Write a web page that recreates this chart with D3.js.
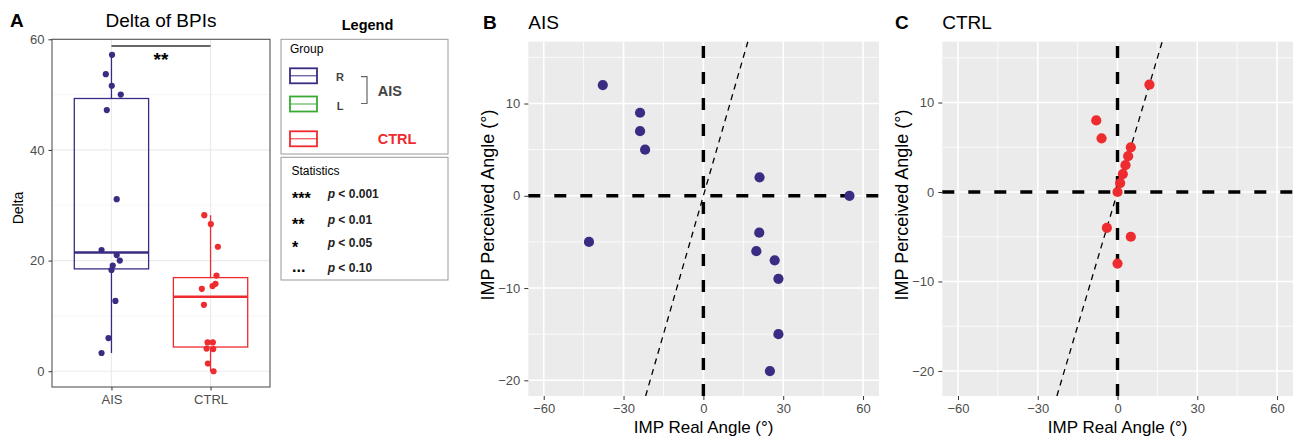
<!DOCTYPE html>
<html>
<head>
<meta charset="utf-8">
<script src="https://cdn.jsdelivr.net/npm/d3@7"></script>
<style>
  body { margin: 0; background: #fff; }
  svg text { font-family: 'Liberation Sans', Arial, Helvetica, sans-serif; }
</style>
</head>
<body>
<svg id="chart" width="1298" height="439"></svg>
<script>
'use strict';

// ---- data ----
var groups = ['AIS', 'CTRL'];
var aisDelta   = [57.2, 53.7, 51.6, 50.0, 47.2, 31.1, 21.9, 21.0, 20.0, 19.1, 18.3, 12.7, 6.0, 3.3];
var aisJitter  = [0.006, -0.057, 0.003, 0.094, -0.047, 0.053, -0.10, 0.053, 0.084, 0.013, 0, 0.04, -0.03, -0.10];
var ctrlDelta  = [28.2, 26.6, 22.5, 17.3, 15.8, 15.4, 14.9, 12.0, 5.2, 5.2, 4.1, 4.0, 1.4, 0.0];
var ctrlJitter = [-0.063, 0.003, 0.074, 0.06, 0.05, 0.02, -0.088, -0.067, -0.03, 0.023, -0.04, 0.027, -0.027, 0.03];
var deltaTicks = [0, 20, 40, 60];
var deltaMinor = [10, 30, 50];
var signifLabel = '**';
var signifY = 58.8;

var aisReal       = [-37.8, -23.8, -23.8, -21.9, 21.1, 54.9, -43, 21, 19.9, 26.8, 28.2, 28.2, 25];
var aisPerceived  = [12, 9, 7, 5, 2, 0, -5, -4, -6, -7, -9, -15, -19];
var ctrlReal      = [12, -8, -6, 5, 4, 3, 2, 1, 0, -4, 5, 0];
var ctrlPerceived = [12, 8, 6, 5, 4, 3, 2, 1, 0, -4, -5, -8];
var angleTicksX = [-60, -30, 0, 30, 60];
var angleMinorX = [-45, -15, 15, 45];
var angleTicksY = [-20, -10, 0, 10];
var angleMinorY = [-15, -5, 5, 15];

var legendSides = ['R', 'L'];
var statStars = ['***', '**', '*', '...'];
var statP = ['0.001', '0.01', '0.05', '0.10'];

var colR = '#392C83', colL = '#3AA935', colCtrl = '#EE2B2E';
var tickCol = '#4D4D4D';

var svg = d3.select('#chart');

function styleAxis(g, size) {
  g.select('.domain').remove();
  g.selectAll('.tick line').attr('stroke', '#333').attr('stroke-width', 1);
  g.selectAll('.tick text')
    .attr('fill', tickCol)
    .attr('font-size', size)
    .attr('font-family', "'Liberation Sans', Arial, sans-serif");
}

// ================= Panel A: boxplot =================
(function() {
  var left = 52, right = 270, top = 39.3, bottom = 387;
  var x = d3.scalePoint().domain(groups).range([left, right]).padding(0.6);
  var y = d3.scaleLinear().domain([-2.85, 60]).range([bottom, top]);
  var step = x.step();

  var g = svg.append('g');

  // grid
  g.selectAll('.minor').data(deltaMinor).enter().append('line')
    .attr('x1', left).attr('x2', right)
    .attr('y1', function(d) { return y(d) }).attr('y2', function(d) { return y(d) })
    .attr('stroke', '#F2F2F2').attr('stroke-width', 0.7);
  g.selectAll('.major').data(deltaTicks).enter().append('line')
    .attr('x1', left).attr('x2', right)
    .attr('y1', function(d) { return y(d) }).attr('y2', function(d) { return y(d) })
    .attr('stroke', '#EBEBEB').attr('stroke-width', 1.2);
  g.selectAll('.vmajor').data(groups).enter().append('line')
    .attr('x1', function(d) { return x(d) }).attr('x2', function(d) { return x(d) })
    .attr('y1', top).attr('y2', bottom)
    .attr('stroke', '#EBEBEB').attr('stroke-width', 1.2);

  var sets = [
    {name: 'AIS', vals: aisDelta, jit: aisJitter, col: colR},
    {name: 'CTRL', vals: ctrlDelta, jit: ctrlJitter, col: colCtrl}
  ];

  sets.forEach(function(s) {
    var sorted = s.vals.slice().sort(d3.ascending);
    var q1 = d3.quantile(sorted, 0.25), med = d3.quantile(sorted, 0.5), q3 = d3.quantile(sorted, 0.75);
    var iqr = q3 - q1;
    var lo = d3.min(sorted.filter(function(v) { return v >= q1 - 1.5 * iqr }));
    var hi = d3.max(sorted.filter(function(v) { return v <= q3 + 1.5 * iqr }));
    var cx = x(s.name), hw = step * 0.75 / 2;

    g.append('line').attr('x1', cx).attr('x2', cx).attr('y1', y(q3)).attr('y2', y(hi))
      .attr('stroke', s.col).attr('stroke-width', 1.3);
    g.append('line').attr('x1', cx).attr('x2', cx).attr('y1', y(q1)).attr('y2', y(lo))
      .attr('stroke', s.col).attr('stroke-width', 1.3);
    g.append('rect').attr('x', cx - hw).attr('width', hw * 2)
      .attr('y', y(q3)).attr('height', y(q1) - y(q3))
      .attr('fill', 'none').attr('stroke', s.col).attr('stroke-width', 1.3);
    g.append('line').attr('x1', cx - hw).attr('x2', cx + hw).attr('y1', y(med)).attr('y2', y(med))
      .attr('stroke', s.col).attr('stroke-width', 2.6);

    g.selectAll(null).data(s.vals).enter().append('circle')
      .attr('cx', function(d, i) { return cx + s.jit[i] * step })
      .attr('cy', function(d) { return y(d) })
      .attr('r', 3.1)
      .attr('fill', s.col);
  });

  // significance bar
  g.append('line').attr('x1', x('AIS')).attr('x2', x('CTRL'))
    .attr('y1', y(signifY)).attr('y2', y(signifY))
    .attr('stroke', '#333').attr('stroke-width', 1.6);
  g.append('text').attr('x', (x('AIS') + x('CTRL')) / 2).attr('y', 65.5)
    .attr('text-anchor', 'middle').attr('font-weight', 'bold').attr('font-size', 19)
    .text(signifLabel);

  // border
  g.append('rect').attr('x', left).attr('y', top).attr('width', right - left).attr('height', bottom - top)
    .attr('fill', 'none').attr('stroke', '#555').attr('stroke-width', 1.1);

  var ya = g.append('g').attr('transform', 'translate(' + left + ',0)')
    .call(d3.axisLeft(y).tickValues(deltaTicks).tickSize(3.5).tickPadding(4));
  styleAxis(ya, 13);
  var xa = g.append('g').attr('transform', 'translate(0,' + bottom + ')')
    .call(d3.axisBottom(x).tickSize(3.5).tickPadding(4));
  styleAxis(xa, 13);

  svg.append('text').attr('x', 10).attr('y', 27).attr('font-weight', 'bold').attr('font-size', 19).text('A');
  svg.append('text').attr('x', (left + right) / 2).attr('y', 27).attr('text-anchor', 'middle')
    .attr('font-size', 19).text('Delta of BPIs');
  svg.append('text').attr('transform', 'translate(22.5,208) rotate(-90)')
    .attr('text-anchor', 'middle').attr('font-size', 14).text('Delta');
})();

// ================= Legend =================
(function() {
  var g = svg.append('g');
  g.append('text').attr('x', 367.5).attr('y', 29.5).attr('text-anchor', 'middle')
    .attr('font-weight', 'bold').attr('font-size', 14.5).text('Legend');

  g.append('rect').attr('x', 281).attr('y', 39.3).attr('width', 167).attr('height', 114.7)
    .attr('fill', 'none').attr('stroke', '#9A9A9A').attr('stroke-width', 1);
  g.append('rect').attr('x', 281).attr('y', 157.3).attr('width', 167).attr('height', 122.7)
    .attr('fill', 'none').attr('stroke', '#9A9A9A').attr('stroke-width', 1);

  g.append('text').attr('x', 290).attr('y', 53).attr('font-size', 12).text('Group');

  var swatches = [
    {col: colR, y: 68.3},
    {col: colL, y: 96.5},
    {col: colCtrl, y: 131.3}
  ];
  swatches.forEach(function(s) {
    g.append('rect').attr('x', 290).attr('y', s.y).attr('width', 27).attr('height', 15)
      .attr('fill', 'none').attr('stroke', s.col).attr('stroke-width', 1.8);
    g.append('line').attr('x1', 290).attr('x2', 317).attr('y1', s.y + 7.5).attr('y2', s.y + 7.5)
      .attr('stroke', s.col).attr('stroke-width', 1);
  });

  g.selectAll('.side').data(legendSides).enter().append('text')
    .attr('x', 340).attr('y', function(d, i) { return i === 0 ? 81.3 : 110 })
    .attr('text-anchor', 'middle').attr('font-weight', 'bold').attr('font-size', 11)
    .attr('fill', '#444').text(function(d) { return d });

  g.append('path').attr('d', 'M361,76.7 H367 V103.5 H361')
    .attr('fill', 'none').attr('stroke', '#666').attr('stroke-width', 1.2);
  g.append('text').attr('x', 377.7).attr('y', 95.7).attr('font-weight', 'bold').attr('font-size', 14.5)
    .attr('fill', '#444').text('AIS');
  g.append('text').attr('x', 377.7).attr('y', 144.3).attr('font-weight', 'bold').attr('font-size', 14.5)
    .attr('fill', colCtrl).text('CTRL');

  g.append('text').attr('x', 291.5).attr('y', 175).attr('font-size', 12).text('Statistics');
  var rowY = [197.5, 224, 246.5, 272];
  statStars.forEach(function(s, i) {
    var dots = s === '...';
    g.append('text').attr('x', 292).attr('y', dots ? 271.5 : rowY[i] + 6)
      .attr('font-weight', 'bold').attr('font-size', 16).text(s);
    var t = g.append('text').attr('x', 327.7).attr('y', rowY[i]).attr('font-size', 12)
      .attr('font-weight', 'bold').attr('fill', '#222');
    t.append('tspan').attr('font-style', 'italic').text('p');
    t.append('tspan').text(' < ' + statP[i]);
  });
})();

// ================= Panels B and C: scatter =================
function scatterPanel(opt) {
  var left = opt.left, right = opt.left + 350.7, top = 41.7, bottom = 396;
  var x = d3.scaleLinear().domain(opt.xDomain).range([left, right]);
  var y = d3.scaleLinear().domain(opt.yDomain).range([bottom, top]);
  var g = svg.append('g');

  g.append('rect').attr('x', left).attr('y', top).attr('width', right - left).attr('height', bottom - top)
    .attr('fill', '#EBEBEB');

  g.selectAll(null).data(angleMinorX).enter().append('line')
    .attr('x1', function(d) { return x(d) }).attr('x2', function(d) { return x(d) })
    .attr('y1', top).attr('y2', bottom).attr('stroke', '#fff').attr('stroke-width', 0.8);
  g.selectAll(null).data(angleMinorY).enter().append('line')
    .attr('y1', function(d) { return y(d) }).attr('y2', function(d) { return y(d) })
    .attr('x1', left).attr('x2', right).attr('stroke', '#fff').attr('stroke-width', 0.8);
  g.selectAll(null).data(angleTicksX).enter().append('line')
    .attr('x1', function(d) { return x(d) }).attr('x2', function(d) { return x(d) })
    .attr('y1', top).attr('y2', bottom).attr('stroke', '#fff').attr('stroke-width', 1.6);
  g.selectAll(null).data(angleTicksY).enter().append('line')
    .attr('y1', function(d) { return y(d) }).attr('y2', function(d) { return y(d) })
    .attr('x1', left).attr('x2', right).attr('stroke', '#fff').attr('stroke-width', 1.6);

  // identity line y = x
  var t0 = Math.max(opt.xDomain[0], opt.yDomain[0]), t1 = Math.min(opt.xDomain[1], opt.yDomain[1]);
  g.append('line').attr('x1', x(t0)).attr('y1', y(t0)).attr('x2', x(t1)).attr('y2', y(t1))
    .attr('stroke', '#000').attr('stroke-width', 1.3).attr('stroke-dasharray', '6,5');

  // zero reference lines
  g.append('line').attr('x1', left).attr('x2', right).attr('y1', y(0)).attr('y2', y(0))
    .attr('stroke', '#000').attr('stroke-width', 3.4).attr('stroke-dasharray', '12,14');
  g.append('line').attr('x1', x(0)).attr('x2', x(0)).attr('y1', bottom).attr('y2', top)
    .attr('stroke', '#000').attr('stroke-width', 3.4).attr('stroke-dasharray', '12,14');

  g.selectAll(null).data(opt.real).enter().append('circle')
    .attr('cx', function(d) { return x(d) })
    .attr('cy', function(d, i) { return y(opt.perceived[i]) })
    .attr('r', 5.1).attr('fill', opt.col);

  var ya = g.append('g').attr('transform', 'translate(' + left + ',0)')
    .call(d3.axisLeft(y).tickValues(angleTicksY).tickSize(4).tickPadding(4));
  styleAxis(ya, 13);
  var xa = g.append('g').attr('transform', 'translate(0,' + bottom + ')')
    .call(d3.axisBottom(x).tickValues(angleTicksX).tickSize(4).tickPadding(4));
  styleAxis(xa, 13);

  svg.append('text').attr('x', opt.letterX).attr('y', 29).attr('font-weight', 'bold').attr('font-size', 19).text(opt.letter);
  svg.append('text').attr('x', left).attr('y', 29).attr('font-size', 19).text(opt.title);
  svg.append('text').attr('x', (left + right) / 2).attr('y', 433).attr('text-anchor', 'middle')
    .attr('font-size', 17).text('IMP Real Angle (°)');
  svg.append('text').attr('transform', 'translate(' + (left - 34) + ',205) rotate(-90)')
    .attr('text-anchor', 'middle').attr('font-size', 18).text('IMP Perceived Angle (°)');
}

scatterPanel({
  left: 528.3, xDomain: [-65.8, 66], yDomain: [-21.7, 16.7],
  real: aisReal, perceived: aisPerceived, col: colR,
  letter: 'B', letterX: 483, title: 'AIS'
});
scatterPanel({
  left: 942.3, xDomain: [-65.9, 66], yDomain: [-22.8, 16.8],
  real: ctrlReal, perceived: ctrlPerceived, col: colCtrl,
  letter: 'C', letterX: 895, title: 'CTRL'
});
</script>
</body>
</html>
